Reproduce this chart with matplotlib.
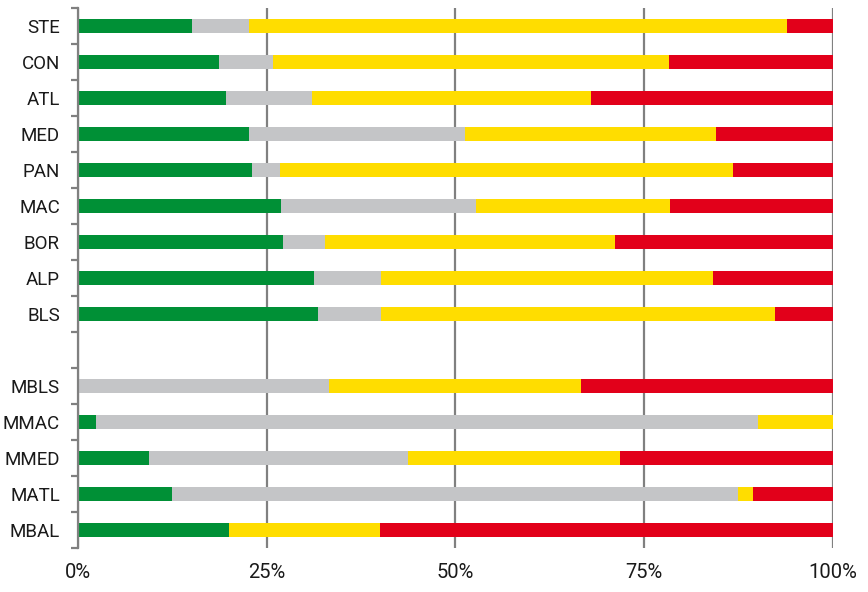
import numpy as np
import matplotlib.pyplot as plt
from matplotlib.ticker import FixedLocator

plt.rcParams['font.family'] = ['Roboto', 'DejaVu Sans']

# categories, top to bottom ('' is the empty spacer row)
categorias = ['STE', 'CON', 'ATL', 'MED', 'PAN', 'MAC', 'BOR', 'ALP', 'BLS', '',
              'MBLS', 'MMAC', 'MMED', 'MATL', 'MBAL']

# shares in % for each status
verde = [15.1, 18.7, 19.6, 22.6, 23.0, 26.9, 27.1, 31.3, 31.8, 0,
         0.0, 2.4, 9.4, 12.5, 20.0]
cinza = [7.6, 7.2, 11.4, 28.7, 3.8, 25.8, 5.6, 8.9, 8.3, 0,
         33.3, 87.7, 34.3, 74.9, 0.0]
amarelo = [71.3, 52.4, 37.0, 33.2, 60.0, 25.8, 38.4, 43.9, 52.3, 0,
           33.3, 9.9, 28.1, 2.1, 20.0]
vermelho = [6.0, 21.7, 32.0, 15.5, 13.2, 21.5, 28.9, 15.9, 7.6, 0,
            33.4, 0.0, 28.2, 10.5, 60.0]

cores = ['#009036', '#C4C5C7', '#FFDD00', '#E2001A']

fig = plt.figure(figsize=(8.68, 5.92), dpi=100)
ax = fig.add_axes([0.0899, 0.0743, 0.8694, 0.9122])

y = np.arange(len(categorias))
esquerda = np.zeros(len(categorias))
for serie, cor in zip([verde, cinza, amarelo, vermelho], cores):
    ax.barh(y, serie, left=esquerda, height=0.4, color=cor, zorder=2)
    esquerda += np.array(serie)

ax.set_xlim(0, 100)
ax.set_ylim(len(categorias) - 0.5, -0.5)

# vertical grid lines
ax.set_xticks([0, 25, 50, 75, 100])
ax.set_xticklabels(['0%', '25%', '50%', '75%', '100%'])
ax.grid(True, axis='x', color='#808080', linewidth=1.6, zorder=0)
ax.set_axisbelow(True)

ax.set_yticks(y)
ax.set_yticklabels(categorias)
ax.yaxis.set_minor_locator(FixedLocator(np.arange(-0.5, len(categorias), 1)))

ax.tick_params(axis='y', which='major', length=0, pad=13, labelsize=13.5, colors='#1a1a1a')
ax.tick_params(axis='y', which='minor', length=5, width=1.6, color='#808080', direction='out')
ax.tick_params(axis='x', which='major', length=0, pad=11, labelsize=14.5, colors='#1a1a1a')

for lado in ['top', 'right', 'bottom']:
    ax.spines[lado].set_visible(False)
ax.spines['left'].set_color('#808080')
ax.spines['left'].set_linewidth(1.6)

plt.savefig('out.png', dpi=100)
